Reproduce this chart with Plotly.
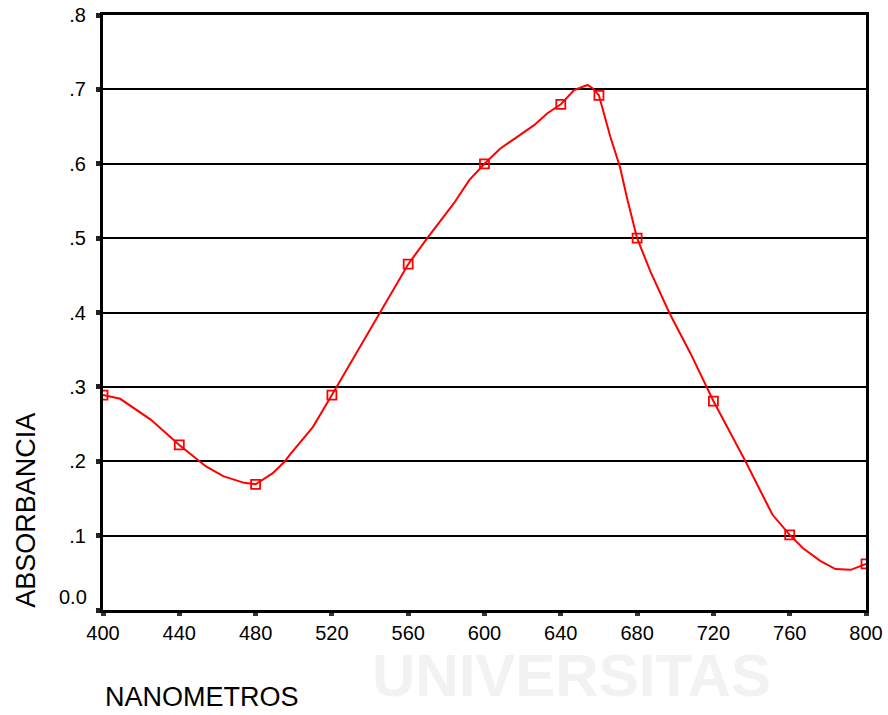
import plotly.graph_objects as go

# Curve points (nm, absorbance)
curve_nm = [400, 409, 425, 433, 440, 454, 463, 474, 480, 489, 495, 498, 510, 520,
            545, 560, 570, 584, 592, 600, 608, 626, 633, 640, 647, 654, 657, 660,
            666, 671, 675, 678, 680, 687, 697, 708, 720, 737, 751, 760, 767, 776,
            784, 792, 800]
curve_abs = [0.289, 0.284, 0.256, 0.238, 0.222, 0.193, 0.180, 0.171, 0.169, 0.184,
             0.199, 0.209, 0.246, 0.289, 0.399, 0.465, 0.500, 0.547, 0.578, 0.600,
             0.620, 0.652, 0.668, 0.680, 0.699, 0.706, 0.701, 0.692, 0.636, 0.596,
             0.551, 0.520, 0.500, 0.455, 0.399, 0.345, 0.281, 0.199, 0.128, 0.101,
             0.083, 0.066, 0.055, 0.054, 0.062]

# Measured points (markers)
marker_nm = [400, 440, 480, 520, 560, 600, 640, 660, 680, 720, 760, 800]
marker_abs = [0.289, 0.222, 0.169, 0.289, 0.465, 0.600, 0.680, 0.692, 0.500, 0.281, 0.101, 0.062]

x_ticks = [400, 440, 480, 520, 560, 600, 640, 680, 720, 760, 800]
y_ticks = [0.0, 0.1, 0.2, 0.3, 0.4, 0.5, 0.6, 0.7, 0.8]
y_ticktext = ["", ".1", ".2", ".3", ".4", ".5", ".6", ".7", ".8"]

FONT = "Liberation Sans, Arial, sans-serif"
RED = "#ff0000"

fig = go.Figure()
fig.add_trace(go.Scatter(x=curve_nm, y=curve_abs, mode="lines",
                         line=dict(color=RED, width=2), hoverinfo="skip",
                         showlegend=False))
fig.add_trace(go.Scatter(x=marker_nm, y=marker_abs, mode="markers",
                         marker=dict(symbol="square-open", size=9, color=RED,
                                     line=dict(color=RED, width=1.8)),
                         showlegend=False))

fig.update_layout(
    width=888, height=715,
    margin=dict(l=103, r=22, t=15, b=105),
    paper_bgcolor="white", plot_bgcolor="white",
    font=dict(family=FONT, size=20, color="black"),
    xaxis=dict(range=[400, 800], tickvals=x_ticks, ticks="outside", ticklen=3,
               tickwidth=5, tickcolor="#333333", showgrid=False, zeroline=False,
               showline=True, linecolor="black", linewidth=3, mirror=True,
               automargin=False,
               tickfont=dict(family=FONT, size=20, color="black")),
    yaxis=dict(range=[0, 0.8001], tickvals=y_ticks, ticktext=y_ticktext,
               ticks="outside", ticklen=4, tickwidth=5, tickcolor="#222222",
               showgrid=True, gridcolor="black", gridwidth=2, zeroline=False,
               showline=True, linecolor="black", linewidth=3, mirror=True,
               ticklabelstandoff=6, automargin=False,
               tickfont=dict(family=FONT, size=20, color="black")),
    annotations=[
        dict(text="UNIVERSITAS", xref="paper", yref="paper", x=0.35, y=-0.050,
             xanchor="left", yanchor="top", showarrow=False,
             font=dict(family=FONT, size=60, color="#f2f2f2", weight="bold")),
        dict(text="0.0", xref="paper", yref="paper", x=-0.018, y=0.022,
             xanchor="right", yanchor="middle", showarrow=False,
             font=dict(family=FONT, size=20, color="black")),
        dict(text="NANOMETROS", xref="paper", yref="paper", x=0.0, y=-0.146,
             xanchor="left", yanchor="middle", showarrow=False,
             font=dict(family=FONT, size=27, color="black")),
        dict(text="ABSORBANCIA", xref="paper", yref="paper", x=-0.102, y=0.0,
             xanchor="center", yanchor="bottom", textangle=-90, showarrow=False,
             font=dict(family=FONT, size=27, color="black")),
    ],
)

fig.write_html("out.html", config={"displayModeBar": False},
               post_script="document.body.style.margin='0';document.body.style.overflow='hidden';")
